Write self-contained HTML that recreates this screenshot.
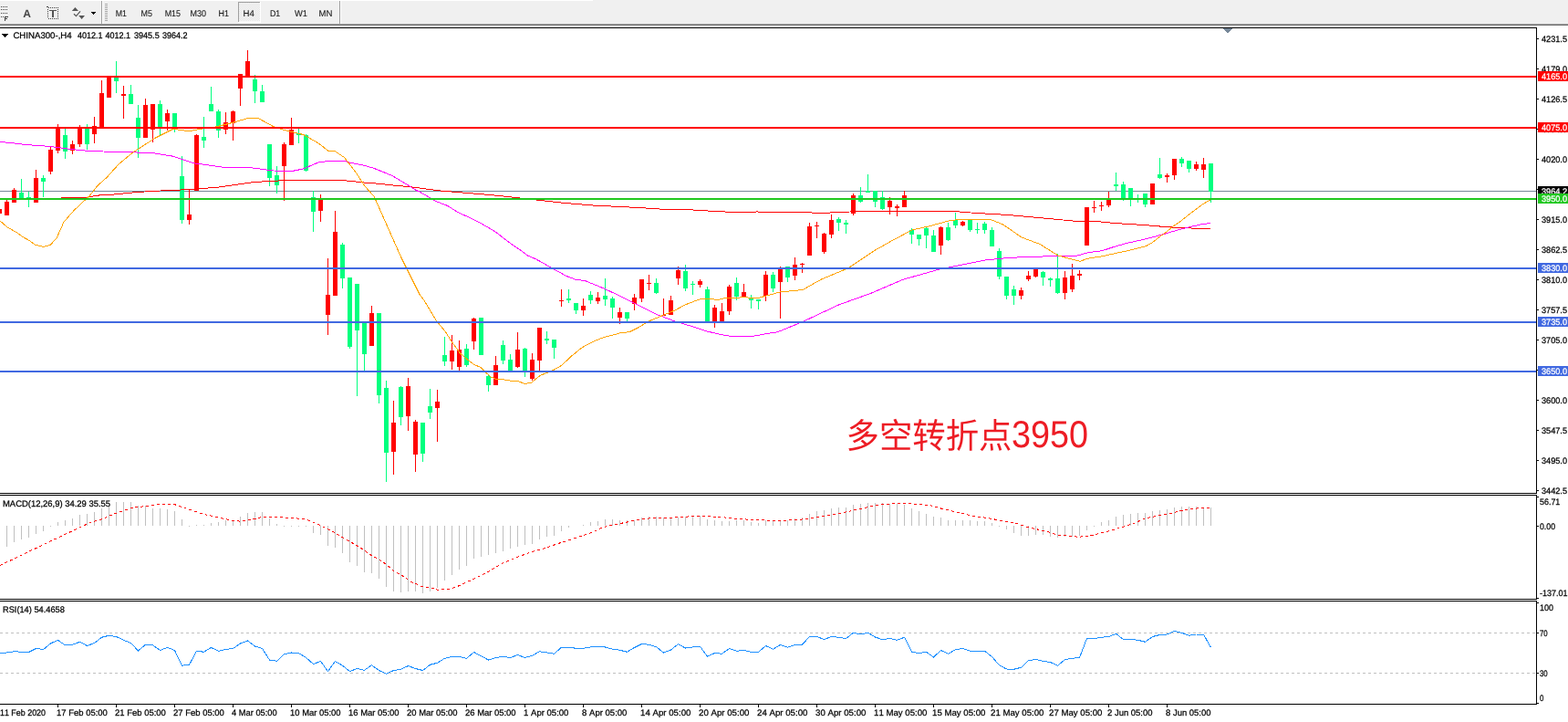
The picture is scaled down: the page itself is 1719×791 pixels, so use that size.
<!DOCTYPE html>
<html><head><meta charset="utf-8"><title>CHINA300 H4</title>
<style>html,body{margin:0;padding:0;background:#fff;overflow:hidden;}svg{display:block;}text{font-kerning:none;text-rendering:geometricPrecision;}</style>
</head><body>
<svg width="1719" height="791" viewBox="0 0 1719 791" shape-rendering="crispEdges">
<rect x="0" y="0" width="1719" height="791" fill="#fff"/>
<rect x="0" y="0" width="1719" height="26" fill="#f0f0f0"/>
<rect x="0" y="0" width="650" height="1" fill="#ffffff"/>
<rect x="0" y="26" width="1719" height="1" fill="#a0a0a0"/>
<rect x="0" y="27" width="1719" height="1" fill="#6d6d6d"/>
<rect x="1" y="7" width="1" height="1" fill="#404040"/>
<rect x="3" y="7" width="1" height="1" fill="#404040"/>
<rect x="5" y="7" width="1" height="1" fill="#404040"/>
<rect x="7" y="7" width="1" height="1" fill="#404040"/>
<rect x="1" y="10" width="1" height="1" fill="#404040"/>
<rect x="3" y="10" width="1" height="1" fill="#404040"/>
<rect x="5" y="10" width="1" height="1" fill="#404040"/>
<rect x="7" y="10" width="1" height="1" fill="#404040"/>
<rect x="1" y="14" width="1" height="1" fill="#404040"/>
<rect x="3" y="14" width="1" height="1" fill="#404040"/>
<rect x="5" y="14" width="1" height="1" fill="#404040"/>
<rect x="7" y="14" width="1" height="1" fill="#404040"/>
<rect x="1" y="18" width="1" height="1" fill="#404040"/>
<rect x="3" y="18" width="1" height="1" fill="#404040"/>
<rect x="5" y="18" width="1" height="5" fill="#404040"/>
<rect x="5" y="18" width="4" height="1" fill="#404040"/>
<rect x="5" y="20" width="3" height="1" fill="#404040"/>
<text x="29.5" y="19" font-size="12" fill="#4a4a4a" font-family='"Liberation Sans", Arial, sans-serif' text-anchor="middle" font-weight="bold">A</text>
<rect x="53" y="8" width="1" height="1" fill="#404040"/>
<rect x="53" y="20" width="1" height="1" fill="#404040"/>
<rect x="55" y="8" width="1" height="1" fill="#404040"/>
<rect x="55" y="20" width="1" height="1" fill="#404040"/>
<rect x="57" y="8" width="1" height="1" fill="#404040"/>
<rect x="57" y="20" width="1" height="1" fill="#404040"/>
<rect x="59" y="8" width="1" height="1" fill="#404040"/>
<rect x="59" y="20" width="1" height="1" fill="#404040"/>
<rect x="61" y="8" width="1" height="1" fill="#404040"/>
<rect x="61" y="20" width="1" height="1" fill="#404040"/>
<rect x="63" y="8" width="1" height="1" fill="#404040"/>
<rect x="63" y="20" width="1" height="1" fill="#404040"/>
<rect x="52" y="10" width="1" height="1" fill="#404040"/>
<rect x="63" y="10" width="1" height="1" fill="#404040"/>
<rect x="52" y="12" width="1" height="1" fill="#404040"/>
<rect x="63" y="12" width="1" height="1" fill="#404040"/>
<rect x="52" y="14" width="1" height="1" fill="#404040"/>
<rect x="63" y="14" width="1" height="1" fill="#404040"/>
<rect x="52" y="16" width="1" height="1" fill="#404040"/>
<rect x="63" y="16" width="1" height="1" fill="#404040"/>
<rect x="52" y="18" width="1" height="1" fill="#404040"/>
<rect x="63" y="18" width="1" height="1" fill="#404040"/>
<rect x="51" y="7" width="2" height="1" fill="#404040"/>
<rect x="54" y="11" width="8" height="1" fill="#555555"/>
<rect x="57" y="11" width="2" height="8" fill="#555555"/>
<path d="M78.8,12 L82.4,8 L86,12 Z" fill="#555555" shape-rendering="auto"/>
<path d="M86.2,17 L93,17 L89.6,21 Z" fill="#555555" shape-rendering="auto"/>
<polyline points="81,15.2 83.5,17.6 88,12.4" fill="none" stroke="#555555" stroke-width="1.2" shape-rendering="auto"/>
<path d="M99.5,13 L105.5,13 L102.5,16.5 Z" fill="#000"/>
<rect x="111" y="1" width="1" height="25" fill="#a0a0a0"/>
<rect x="112" y="1" width="1" height="25" fill="#ffffff"/>
<rect x="115" y="4" width="3" height="1" fill="#a8a8a8"/>
<rect x="115" y="6" width="3" height="1" fill="#a8a8a8"/>
<rect x="115" y="8" width="3" height="1" fill="#a8a8a8"/>
<rect x="115" y="10" width="3" height="1" fill="#a8a8a8"/>
<rect x="115" y="12" width="3" height="1" fill="#a8a8a8"/>
<rect x="115" y="14" width="3" height="1" fill="#a8a8a8"/>
<rect x="115" y="16" width="3" height="1" fill="#a8a8a8"/>
<rect x="115" y="18" width="3" height="1" fill="#a8a8a8"/>
<rect x="115" y="20" width="3" height="1" fill="#a8a8a8"/>
<rect x="115" y="22" width="3" height="1" fill="#a8a8a8"/>
<rect x="372" y="1" width="1" height="25" fill="#a0a0a0"/>
<rect x="373" y="1" width="1" height="25" fill="#ffffff"/>
<rect x="261" y="2" width="25" height="22" fill="#f7f7f7"/>
<defs><pattern id="dith" width="2" height="2" patternUnits="userSpaceOnUse"><rect width="2" height="2" fill="#f8f8f8"/><rect width="1" height="1" fill="#e4e4e4"/><rect x="1" y="1" width="1" height="1" fill="#e4e4e4"/></pattern></defs>
<rect x="262" y="3" width="23" height="20" fill="url(#dith)"/>
<rect x="261" y="2" width="25" height="1" fill="#a0a0a0"/>
<rect x="261" y="2" width="1" height="22" fill="#a0a0a0"/>
<rect x="261" y="24" width="25" height="1" fill="#ffffff"/>
<rect x="285" y="2" width="1" height="22" fill="#ffffff"/>
<text x="126.7" y="18" font-size="9.8" fill="#1a1a1a" font-family='"Liberation Sans", Arial, sans-serif' textLength="12.2" lengthAdjust="spacingAndGlyphs" stroke="#1a1a1a" stroke-width="0.12">M1</text>
<text x="154.6" y="18" font-size="9.8" fill="#1a1a1a" font-family='"Liberation Sans", Arial, sans-serif' textLength="12.4" lengthAdjust="spacingAndGlyphs" stroke="#1a1a1a" stroke-width="0.12">M5</text>
<text x="180.7" y="18" font-size="9.8" fill="#1a1a1a" font-family='"Liberation Sans", Arial, sans-serif' textLength="17.3" lengthAdjust="spacingAndGlyphs" stroke="#1a1a1a" stroke-width="0.12">M15</text>
<text x="208.5" y="18" font-size="9.8" fill="#1a1a1a" font-family='"Liberation Sans", Arial, sans-serif' textLength="17.5" lengthAdjust="spacingAndGlyphs" stroke="#1a1a1a" stroke-width="0.12">M30</text>
<text x="239.6" y="18" font-size="9.8" fill="#1a1a1a" font-family='"Liberation Sans", Arial, sans-serif' textLength="11.4" lengthAdjust="spacingAndGlyphs" stroke="#1a1a1a" stroke-width="0.12">H1</text>
<text x="266.6" y="18" font-size="9.8" fill="#1a1a1a" font-family='"Liberation Sans", Arial, sans-serif' textLength="12.3" lengthAdjust="spacingAndGlyphs" stroke="#1a1a1a" stroke-width="0.12">H4</text>
<text x="295.9" y="18" font-size="9.8" fill="#1a1a1a" font-family='"Liberation Sans", Arial, sans-serif' textLength="11.3" lengthAdjust="spacingAndGlyphs" stroke="#1a1a1a" stroke-width="0.12">D1</text>
<text x="322.9" y="18" font-size="9.8" fill="#1a1a1a" font-family='"Liberation Sans", Arial, sans-serif' textLength="14.0" lengthAdjust="spacingAndGlyphs" stroke="#1a1a1a" stroke-width="0.12">W1</text>
<text x="349.5" y="18" font-size="9.8" fill="#1a1a1a" font-family='"Liberation Sans", Arial, sans-serif' textLength="14.9" lengthAdjust="spacingAndGlyphs" stroke="#1a1a1a" stroke-width="0.12">MN</text>
<rect x="0" y="28" width="1685" height="2" fill="#ffffff"/>
<rect x="0" y="209" width="1684" height="1" fill="#778899"/>
<rect x="-1" y="226" width="1" height="10" fill="#ff0000"/>
<rect x="-3" y="229" width="5" height="5" fill="#ff0000"/>
<rect x="7" y="219" width="1" height="17" fill="#ff0000"/>
<rect x="5" y="221" width="5" height="15" fill="#ff0000"/>
<rect x="15" y="206" width="1" height="16" fill="#ff0000"/>
<rect x="13" y="208" width="5" height="14" fill="#ff0000"/>
<rect x="23" y="196" width="1" height="21" fill="#00ff7f"/>
<rect x="21" y="211" width="5" height="6" fill="#00ff7f"/>
<rect x="31" y="210" width="1" height="17" fill="#00ff7f"/>
<rect x="29" y="216" width="5" height="2" fill="#00ff7f"/>
<rect x="39" y="186" width="1" height="36" fill="#ff0000"/>
<rect x="37" y="195" width="5" height="27" fill="#ff0000"/>
<rect x="47" y="192" width="1" height="24" fill="#00ff7f"/>
<rect x="45" y="195" width="5" height="4" fill="#00ff7f"/>
<rect x="55" y="161" width="1" height="30" fill="#ff0000"/>
<rect x="53" y="164" width="5" height="24" fill="#ff0000"/>
<rect x="63" y="136" width="1" height="32" fill="#ff0000"/>
<rect x="61" y="140" width="5" height="25" fill="#ff0000"/>
<rect x="71" y="141" width="1" height="33" fill="#00ff7f"/>
<rect x="69" y="148" width="5" height="18" fill="#00ff7f"/>
<rect x="79" y="154" width="1" height="15" fill="#ff0000"/>
<rect x="77" y="158" width="5" height="7" fill="#ff0000"/>
<rect x="87" y="137" width="1" height="24" fill="#ff0000"/>
<rect x="85" y="140" width="5" height="18" fill="#ff0000"/>
<rect x="95" y="136" width="1" height="28" fill="#00ff7f"/>
<rect x="93" y="141" width="5" height="17" fill="#00ff7f"/>
<rect x="103" y="128" width="1" height="29" fill="#ff0000"/>
<rect x="101" y="138" width="5" height="9" fill="#ff0000"/>
<rect x="111" y="88" width="1" height="52" fill="#ff0000"/>
<rect x="109" y="102" width="5" height="38" fill="#ff0000"/>
<rect x="119" y="84" width="1" height="23" fill="#ff0000"/>
<rect x="117" y="84" width="5" height="23" fill="#ff0000"/>
<rect x="127" y="67" width="1" height="35" fill="#00ff7f"/>
<rect x="125" y="85" width="5" height="4" fill="#00ff7f"/>
<rect x="135" y="94" width="1" height="36" fill="#ff0000"/>
<rect x="133" y="103" width="5" height="2" fill="#ff0000"/>
<rect x="143" y="93" width="1" height="21" fill="#00ff7f"/>
<rect x="141" y="103" width="5" height="11" fill="#00ff7f"/>
<rect x="151" y="115" width="1" height="58" fill="#00ff7f"/>
<rect x="149" y="129" width="5" height="22" fill="#00ff7f"/>
<rect x="159" y="108" width="1" height="43" fill="#ff0000"/>
<rect x="157" y="115" width="5" height="36" fill="#ff0000"/>
<rect x="167" y="114" width="1" height="42" fill="#ff0000"/>
<rect x="165" y="114" width="5" height="28" fill="#ff0000"/>
<rect x="175" y="110" width="1" height="39" fill="#00ff7f"/>
<rect x="173" y="114" width="5" height="25" fill="#00ff7f"/>
<rect x="183" y="120" width="1" height="23" fill="#ff0000"/>
<rect x="181" y="124" width="5" height="9" fill="#ff0000"/>
<rect x="191" y="124" width="1" height="21" fill="#00ff7f"/>
<rect x="189" y="124" width="5" height="15" fill="#00ff7f"/>
<rect x="199" y="171" width="1" height="74" fill="#00ff7f"/>
<rect x="197" y="193" width="5" height="48" fill="#00ff7f"/>
<rect x="207" y="207" width="1" height="39" fill="#ff0000"/>
<rect x="205" y="235" width="5" height="6" fill="#ff0000"/>
<rect x="215" y="147" width="1" height="62" fill="#ff0000"/>
<rect x="213" y="148" width="5" height="61" fill="#ff0000"/>
<rect x="223" y="128" width="1" height="34" fill="#00ff7f"/>
<rect x="221" y="150" width="5" height="4" fill="#00ff7f"/>
<rect x="231" y="95" width="1" height="27" fill="#00ff7f"/>
<rect x="229" y="114" width="5" height="8" fill="#00ff7f"/>
<rect x="239" y="120" width="1" height="31" fill="#00ff7f"/>
<rect x="237" y="122" width="5" height="21" fill="#00ff7f"/>
<rect x="247" y="123" width="1" height="24" fill="#ff0000"/>
<rect x="245" y="134" width="5" height="8" fill="#ff0000"/>
<rect x="255" y="121" width="1" height="33" fill="#ff0000"/>
<rect x="253" y="122" width="5" height="13" fill="#ff0000"/>
<rect x="263" y="81" width="1" height="35" fill="#ff0000"/>
<rect x="261" y="81" width="5" height="16" fill="#ff0000"/>
<rect x="271" y="55" width="1" height="29" fill="#ff0000"/>
<rect x="269" y="67" width="5" height="17" fill="#ff0000"/>
<rect x="279" y="82" width="1" height="31" fill="#00ff7f"/>
<rect x="277" y="87" width="5" height="13" fill="#00ff7f"/>
<rect x="287" y="93" width="1" height="19" fill="#00ff7f"/>
<rect x="285" y="100" width="5" height="12" fill="#00ff7f"/>
<rect x="295" y="158" width="1" height="46" fill="#00ff7f"/>
<rect x="293" y="158" width="5" height="37" fill="#00ff7f"/>
<rect x="303" y="182" width="1" height="30" fill="#00ff7f"/>
<rect x="301" y="192" width="5" height="11" fill="#00ff7f"/>
<rect x="311" y="156" width="1" height="64" fill="#ff0000"/>
<rect x="309" y="158" width="5" height="24" fill="#ff0000"/>
<rect x="319" y="129" width="1" height="30" fill="#ff0000"/>
<rect x="317" y="142" width="5" height="17" fill="#ff0000"/>
<rect x="327" y="141" width="1" height="16" fill="#00ff7f"/>
<rect x="325" y="146" width="5" height="2" fill="#00ff7f"/>
<rect x="335" y="147" width="1" height="41" fill="#00ff7f"/>
<rect x="333" y="148" width="5" height="39" fill="#00ff7f"/>
<rect x="343" y="209" width="1" height="45" fill="#00ff7f"/>
<rect x="341" y="216" width="5" height="16" fill="#00ff7f"/>
<rect x="351" y="213" width="1" height="30" fill="#ff0000"/>
<rect x="349" y="219" width="5" height="12" fill="#ff0000"/>
<rect x="359" y="283" width="1" height="84" fill="#ff0000"/>
<rect x="357" y="323" width="5" height="22" fill="#ff0000"/>
<rect x="367" y="231" width="1" height="93" fill="#ff0000"/>
<rect x="365" y="254" width="5" height="70" fill="#ff0000"/>
<rect x="375" y="266" width="1" height="50" fill="#00ff7f"/>
<rect x="373" y="268" width="5" height="37" fill="#00ff7f"/>
<rect x="383" y="304" width="1" height="78" fill="#00ff7f"/>
<rect x="381" y="304" width="5" height="76" fill="#00ff7f"/>
<rect x="391" y="311" width="1" height="123" fill="#00ff7f"/>
<rect x="389" y="311" width="5" height="51" fill="#00ff7f"/>
<rect x="399" y="353" width="1" height="53" fill="#00ff7f"/>
<rect x="397" y="354" width="5" height="34" fill="#00ff7f"/>
<rect x="407" y="335" width="1" height="44" fill="#ff0000"/>
<rect x="405" y="343" width="5" height="36" fill="#ff0000"/>
<rect x="415" y="343" width="1" height="99" fill="#00ff7f"/>
<rect x="413" y="343" width="5" height="90" fill="#00ff7f"/>
<rect x="423" y="417" width="1" height="111" fill="#00ff7f"/>
<rect x="421" y="425" width="5" height="71" fill="#00ff7f"/>
<rect x="431" y="439" width="1" height="81" fill="#ff0000"/>
<rect x="429" y="463" width="5" height="32" fill="#ff0000"/>
<rect x="439" y="423" width="1" height="43" fill="#00ff7f"/>
<rect x="437" y="424" width="5" height="33" fill="#00ff7f"/>
<rect x="447" y="414" width="1" height="58" fill="#ff0000"/>
<rect x="445" y="423" width="5" height="33" fill="#ff0000"/>
<rect x="455" y="460" width="1" height="57" fill="#ff0000"/>
<rect x="453" y="462" width="5" height="36" fill="#ff0000"/>
<rect x="463" y="463" width="1" height="43" fill="#00ff7f"/>
<rect x="461" y="463" width="5" height="34" fill="#00ff7f"/>
<rect x="471" y="426" width="1" height="33" fill="#00ff7f"/>
<rect x="469" y="445" width="5" height="7" fill="#00ff7f"/>
<rect x="479" y="427" width="1" height="57" fill="#ff0000"/>
<rect x="477" y="440" width="5" height="7" fill="#ff0000"/>
<rect x="487" y="369" width="1" height="32" fill="#00ff7f"/>
<rect x="485" y="389" width="5" height="7" fill="#00ff7f"/>
<rect x="495" y="367" width="1" height="38" fill="#ff0000"/>
<rect x="493" y="384" width="5" height="12" fill="#ff0000"/>
<rect x="503" y="373" width="1" height="33" fill="#ff0000"/>
<rect x="501" y="383" width="5" height="19" fill="#ff0000"/>
<rect x="511" y="377" width="1" height="25" fill="#00ff7f"/>
<rect x="509" y="382" width="5" height="18" fill="#00ff7f"/>
<rect x="519" y="348" width="1" height="35" fill="#ff0000"/>
<rect x="517" y="349" width="5" height="25" fill="#ff0000"/>
<rect x="527" y="348" width="1" height="41" fill="#00ff7f"/>
<rect x="525" y="348" width="5" height="41" fill="#00ff7f"/>
<rect x="535" y="410" width="1" height="19" fill="#00ff7f"/>
<rect x="533" y="412" width="5" height="10" fill="#00ff7f"/>
<rect x="543" y="390" width="1" height="32" fill="#ff0000"/>
<rect x="541" y="400" width="5" height="22" fill="#ff0000"/>
<rect x="551" y="373" width="1" height="26" fill="#00ff7f"/>
<rect x="549" y="378" width="5" height="17" fill="#00ff7f"/>
<rect x="559" y="388" width="1" height="18" fill="#00ff7f"/>
<rect x="557" y="394" width="5" height="12" fill="#00ff7f"/>
<rect x="567" y="364" width="1" height="39" fill="#ff0000"/>
<rect x="565" y="383" width="5" height="19" fill="#ff0000"/>
<rect x="575" y="381" width="1" height="32" fill="#00ff7f"/>
<rect x="573" y="382" width="5" height="26" fill="#00ff7f"/>
<rect x="583" y="387" width="1" height="30" fill="#ff0000"/>
<rect x="581" y="394" width="5" height="21" fill="#ff0000"/>
<rect x="591" y="359" width="1" height="48" fill="#ff0000"/>
<rect x="589" y="359" width="5" height="36" fill="#ff0000"/>
<rect x="599" y="363" width="1" height="14" fill="#00ff7f"/>
<rect x="597" y="371" width="5" height="2" fill="#00ff7f"/>
<rect x="607" y="372" width="1" height="21" fill="#00ff7f"/>
<rect x="605" y="372" width="5" height="9" fill="#00ff7f"/>
<rect x="615" y="317" width="1" height="19" fill="#ff0000"/>
<rect x="613" y="329" width="5" height="1" fill="#ff0000"/>
<rect x="623" y="317" width="1" height="15" fill="#00ff7f"/>
<rect x="621" y="327" width="5" height="2" fill="#00ff7f"/>
<rect x="631" y="332" width="1" height="12" fill="#00ff7f"/>
<rect x="629" y="332" width="5" height="8" fill="#00ff7f"/>
<rect x="639" y="327" width="1" height="19" fill="#ff0000"/>
<rect x="637" y="335" width="5" height="5" fill="#ff0000"/>
<rect x="647" y="319" width="1" height="14" fill="#00ff7f"/>
<rect x="645" y="323" width="5" height="6" fill="#00ff7f"/>
<rect x="655" y="320" width="1" height="13" fill="#ff0000"/>
<rect x="653" y="326" width="5" height="4" fill="#ff0000"/>
<rect x="663" y="305" width="1" height="30" fill="#00ff7f"/>
<rect x="661" y="324" width="5" height="4" fill="#00ff7f"/>
<rect x="671" y="325" width="1" height="24" fill="#00ff7f"/>
<rect x="669" y="327" width="5" height="10" fill="#00ff7f"/>
<rect x="679" y="337" width="1" height="18" fill="#ff0000"/>
<rect x="677" y="342" width="5" height="6" fill="#ff0000"/>
<rect x="687" y="342" width="1" height="10" fill="#00ff7f"/>
<rect x="685" y="342" width="5" height="7" fill="#00ff7f"/>
<rect x="695" y="322" width="1" height="18" fill="#ff0000"/>
<rect x="693" y="326" width="5" height="7" fill="#ff0000"/>
<rect x="703" y="306" width="1" height="25" fill="#ff0000"/>
<rect x="701" y="306" width="5" height="21" fill="#ff0000"/>
<rect x="711" y="301" width="1" height="17" fill="#ff0000"/>
<rect x="709" y="310" width="5" height="1" fill="#ff0000"/>
<rect x="719" y="305" width="1" height="17" fill="#00ff7f"/>
<rect x="717" y="310" width="5" height="11" fill="#00ff7f"/>
<rect x="727" y="327" width="1" height="19" fill="#ff0000"/>
<rect x="725" y="345" width="5" height="1" fill="#ff0000"/>
<rect x="735" y="324" width="1" height="21" fill="#ff0000"/>
<rect x="733" y="329" width="5" height="16" fill="#ff0000"/>
<rect x="743" y="292" width="1" height="20" fill="#ff0000"/>
<rect x="741" y="296" width="5" height="9" fill="#ff0000"/>
<rect x="751" y="290" width="1" height="29" fill="#00ff7f"/>
<rect x="749" y="297" width="5" height="19" fill="#00ff7f"/>
<rect x="759" y="308" width="1" height="15" fill="#00ff7f"/>
<rect x="757" y="311" width="5" height="1" fill="#00ff7f"/>
<rect x="767" y="306" width="1" height="9" fill="#ff0000"/>
<rect x="765" y="308" width="5" height="4" fill="#ff0000"/>
<rect x="775" y="314" width="1" height="38" fill="#00ff7f"/>
<rect x="773" y="317" width="5" height="35" fill="#00ff7f"/>
<rect x="783" y="334" width="1" height="25" fill="#ff0000"/>
<rect x="781" y="337" width="5" height="15" fill="#ff0000"/>
<rect x="791" y="332" width="1" height="20" fill="#ff0000"/>
<rect x="789" y="341" width="5" height="11" fill="#ff0000"/>
<rect x="799" y="312" width="1" height="33" fill="#ff0000"/>
<rect x="797" y="314" width="5" height="27" fill="#ff0000"/>
<rect x="807" y="304" width="1" height="25" fill="#00ff7f"/>
<rect x="805" y="310" width="5" height="15" fill="#00ff7f"/>
<rect x="815" y="311" width="1" height="14" fill="#ff0000"/>
<rect x="813" y="320" width="5" height="5" fill="#ff0000"/>
<rect x="823" y="323" width="1" height="15" fill="#00ff7f"/>
<rect x="821" y="326" width="5" height="3" fill="#00ff7f"/>
<rect x="831" y="328" width="1" height="11" fill="#00ff7f"/>
<rect x="829" y="328" width="5" height="2" fill="#00ff7f"/>
<rect x="839" y="297" width="1" height="33" fill="#ff0000"/>
<rect x="837" y="301" width="5" height="23" fill="#ff0000"/>
<rect x="847" y="298" width="1" height="22" fill="#00ff7f"/>
<rect x="845" y="301" width="5" height="15" fill="#00ff7f"/>
<rect x="855" y="292" width="1" height="57" fill="#ff0000"/>
<rect x="853" y="295" width="5" height="14" fill="#ff0000"/>
<rect x="863" y="292" width="1" height="17" fill="#00ff7f"/>
<rect x="861" y="292" width="5" height="12" fill="#00ff7f"/>
<rect x="871" y="282" width="1" height="25" fill="#ff0000"/>
<rect x="869" y="290" width="5" height="12" fill="#ff0000"/>
<rect x="879" y="288" width="1" height="11" fill="#ff0000"/>
<rect x="877" y="289" width="5" height="1" fill="#ff0000"/>
<rect x="887" y="244" width="1" height="36" fill="#ff0000"/>
<rect x="885" y="248" width="5" height="32" fill="#ff0000"/>
<rect x="895" y="243" width="1" height="18" fill="#ff0000"/>
<rect x="893" y="247" width="5" height="1" fill="#ff0000"/>
<rect x="903" y="255" width="1" height="23" fill="#ff0000"/>
<rect x="901" y="256" width="5" height="20" fill="#ff0000"/>
<rect x="911" y="235" width="1" height="26" fill="#ff0000"/>
<rect x="909" y="241" width="5" height="16" fill="#ff0000"/>
<rect x="919" y="238" width="1" height="15" fill="#00ff7f"/>
<rect x="917" y="240" width="5" height="4" fill="#00ff7f"/>
<rect x="927" y="241" width="1" height="15" fill="#00ff7f"/>
<rect x="925" y="244" width="5" height="2" fill="#00ff7f"/>
<rect x="935" y="212" width="1" height="24" fill="#ff0000"/>
<rect x="933" y="214" width="5" height="20" fill="#ff0000"/>
<rect x="943" y="205" width="1" height="17" fill="#00ff7f"/>
<rect x="941" y="214" width="5" height="7" fill="#00ff7f"/>
<rect x="951" y="191" width="1" height="20" fill="#00ff7f"/>
<rect x="949" y="209" width="5" height="2" fill="#00ff7f"/>
<rect x="959" y="209" width="1" height="18" fill="#00ff7f"/>
<rect x="957" y="209" width="5" height="12" fill="#00ff7f"/>
<rect x="967" y="209" width="1" height="21" fill="#00ff7f"/>
<rect x="965" y="216" width="5" height="13" fill="#00ff7f"/>
<rect x="975" y="216" width="1" height="19" fill="#ff0000"/>
<rect x="973" y="220" width="5" height="7" fill="#ff0000"/>
<rect x="983" y="224" width="1" height="13" fill="#ff0000"/>
<rect x="981" y="226" width="5" height="2" fill="#ff0000"/>
<rect x="991" y="209" width="1" height="18" fill="#ff0000"/>
<rect x="989" y="214" width="5" height="13" fill="#ff0000"/>
<rect x="999" y="250" width="1" height="17" fill="#00ff7f"/>
<rect x="997" y="252" width="5" height="5" fill="#00ff7f"/>
<rect x="1007" y="257" width="1" height="12" fill="#00ff7f"/>
<rect x="1005" y="257" width="5" height="5" fill="#00ff7f"/>
<rect x="1015" y="248" width="1" height="24" fill="#00ff7f"/>
<rect x="1013" y="250" width="5" height="8" fill="#00ff7f"/>
<rect x="1023" y="252" width="1" height="24" fill="#00ff7f"/>
<rect x="1021" y="258" width="5" height="18" fill="#00ff7f"/>
<rect x="1031" y="248" width="1" height="31" fill="#ff0000"/>
<rect x="1029" y="249" width="5" height="20" fill="#ff0000"/>
<rect x="1039" y="244" width="1" height="20" fill="#00ff7f"/>
<rect x="1037" y="249" width="5" height="14" fill="#00ff7f"/>
<rect x="1047" y="233" width="1" height="17" fill="#00ff7f"/>
<rect x="1045" y="241" width="5" height="6" fill="#00ff7f"/>
<rect x="1055" y="242" width="1" height="6" fill="#ff0000"/>
<rect x="1053" y="243" width="5" height="4" fill="#ff0000"/>
<rect x="1063" y="240" width="1" height="14" fill="#00ff7f"/>
<rect x="1061" y="241" width="5" height="11" fill="#00ff7f"/>
<rect x="1071" y="244" width="1" height="12" fill="#00ff7f"/>
<rect x="1069" y="251" width="5" height="1" fill="#00ff7f"/>
<rect x="1079" y="243" width="1" height="13" fill="#00ff7f"/>
<rect x="1077" y="245" width="5" height="7" fill="#00ff7f"/>
<rect x="1087" y="249" width="1" height="21" fill="#00ff7f"/>
<rect x="1085" y="252" width="5" height="18" fill="#00ff7f"/>
<rect x="1095" y="272" width="1" height="34" fill="#00ff7f"/>
<rect x="1093" y="275" width="5" height="28" fill="#00ff7f"/>
<rect x="1103" y="303" width="1" height="25" fill="#00ff7f"/>
<rect x="1101" y="303" width="5" height="21" fill="#00ff7f"/>
<rect x="1111" y="313" width="1" height="21" fill="#00ff7f"/>
<rect x="1109" y="317" width="5" height="7" fill="#00ff7f"/>
<rect x="1119" y="315" width="1" height="13" fill="#ff0000"/>
<rect x="1117" y="318" width="5" height="6" fill="#ff0000"/>
<rect x="1127" y="297" width="1" height="11" fill="#ff0000"/>
<rect x="1125" y="302" width="5" height="4" fill="#ff0000"/>
<rect x="1135" y="295" width="1" height="9" fill="#ff0000"/>
<rect x="1133" y="295" width="5" height="8" fill="#ff0000"/>
<rect x="1143" y="297" width="1" height="16" fill="#00ff7f"/>
<rect x="1141" y="298" width="5" height="6" fill="#00ff7f"/>
<rect x="1151" y="304" width="1" height="10" fill="#00ff7f"/>
<rect x="1149" y="305" width="5" height="2" fill="#00ff7f"/>
<rect x="1159" y="278" width="1" height="44" fill="#00ff7f"/>
<rect x="1157" y="305" width="5" height="16" fill="#00ff7f"/>
<rect x="1167" y="297" width="1" height="31" fill="#ff0000"/>
<rect x="1165" y="304" width="5" height="17" fill="#ff0000"/>
<rect x="1175" y="289" width="1" height="31" fill="#ff0000"/>
<rect x="1173" y="302" width="5" height="15" fill="#ff0000"/>
<rect x="1183" y="296" width="1" height="11" fill="#ff0000"/>
<rect x="1181" y="300" width="5" height="2" fill="#ff0000"/>
<rect x="1191" y="227" width="1" height="42" fill="#ff0000"/>
<rect x="1189" y="227" width="5" height="42" fill="#ff0000"/>
<rect x="1199" y="220" width="1" height="13" fill="#ff0000"/>
<rect x="1197" y="227" width="5" height="1" fill="#ff0000"/>
<rect x="1207" y="221" width="1" height="10" fill="#ff0000"/>
<rect x="1205" y="225" width="5" height="1" fill="#ff0000"/>
<rect x="1215" y="210" width="1" height="17" fill="#ff0000"/>
<rect x="1213" y="219" width="5" height="6" fill="#ff0000"/>
<rect x="1223" y="189" width="1" height="20" fill="#00ff7f"/>
<rect x="1221" y="202" width="5" height="2" fill="#00ff7f"/>
<rect x="1231" y="199" width="1" height="21" fill="#00ff7f"/>
<rect x="1229" y="202" width="5" height="16" fill="#00ff7f"/>
<rect x="1239" y="206" width="1" height="20" fill="#00ff7f"/>
<rect x="1237" y="206" width="5" height="11" fill="#00ff7f"/>
<rect x="1247" y="213" width="1" height="9" fill="#00ff7f"/>
<rect x="1245" y="217" width="5" height="1" fill="#00ff7f"/>
<rect x="1255" y="212" width="1" height="15" fill="#00ff7f"/>
<rect x="1253" y="212" width="5" height="12" fill="#00ff7f"/>
<rect x="1263" y="201" width="1" height="23" fill="#ff0000"/>
<rect x="1261" y="201" width="5" height="23" fill="#ff0000"/>
<rect x="1271" y="173" width="1" height="23" fill="#00ff7f"/>
<rect x="1269" y="191" width="5" height="4" fill="#00ff7f"/>
<rect x="1279" y="190" width="1" height="10" fill="#ff0000"/>
<rect x="1277" y="192" width="5" height="2" fill="#ff0000"/>
<rect x="1287" y="174" width="1" height="23" fill="#ff0000"/>
<rect x="1285" y="174" width="5" height="18" fill="#ff0000"/>
<rect x="1295" y="172" width="1" height="11" fill="#00ff7f"/>
<rect x="1293" y="174" width="5" height="5" fill="#00ff7f"/>
<rect x="1303" y="176" width="1" height="13" fill="#00ff7f"/>
<rect x="1301" y="176" width="5" height="9" fill="#00ff7f"/>
<rect x="1311" y="177" width="1" height="10" fill="#ff0000"/>
<rect x="1309" y="180" width="5" height="5" fill="#ff0000"/>
<rect x="1319" y="173" width="1" height="22" fill="#ff0000"/>
<rect x="1317" y="180" width="5" height="6" fill="#ff0000"/>
<rect x="1327" y="179" width="1" height="43" fill="#00ff7f"/>
<rect x="1325" y="179" width="5" height="31" fill="#00ff7f"/>
<polyline points="67.00,216.50 95.00,216.25 107.00,214.10 125.00,213.00 150.00,210.50 180.00,208.75 210.00,207.50 240.00,205.00 275.00,200.00 290.00,198.75 315.00,197.50 375.00,197.50 390.00,199.00 404.00,200.50 418.00,201.40 425.00,202.50 436.00,203.50 448.00,204.50 456.00,205.50 480.00,208.75 510.00,211.25 540.00,213.75 570.00,217.00 590.00,219.25 620.00,222.50 650.00,225.00 675.00,226.25 700.00,227.50 730.00,229.50 760.00,230.00 780.00,231.25 805.00,232.50 830.00,232.00 905.00,233.25 947.50,231.25 1042.50,231.25 1067.50,233.25 1105.00,235.50 1155.00,240.00 1180.00,242.40 1203.30,242.60 1220.40,244.40 1236.60,245.40 1252.80,246.40 1276.10,248.40 1291.20,249.40 1315.50,250.40 1327.00,250.40" fill="none" stroke="#ff0000" stroke-width="1"/>
<polyline points="0.00,155.50 12.00,156.50 20.00,157.50 28.00,158.50 42.00,159.50 55.00,160.50 80.00,163.75 100.00,165.75 140.00,166.50 170.00,168.00 190.00,171.25 212.50,178.75 245.00,183.25 275.00,183.75 300.00,187.00 320.00,187.50 332.50,185.00 350.00,177.50 365.00,176.25 380.00,177.00 385.00,178.50 400.00,181.40 410.00,184.40 420.00,188.40 430.00,192.50 440.00,198.50 450.00,204.40 455.00,207.80 460.30,210.30 471.00,216.40 477.00,220.20 490.70,225.50 502.80,233.10 515.00,238.40 525.60,243.70 536.20,249.80 543.80,254.40 551.40,260.40 560.50,267.30 569.60,273.30 578.70,280.20 587.80,284.00 600.00,290.80 620.00,302.00 631.00,306.30 641.00,307.40 663.00,316.40 680.00,324.50 700.00,334.50 720.00,344.50 740.00,352.00 760.00,358.00 775.00,363.00 790.00,366.40 800.00,368.20 820.00,368.90 832.00,367.30 840.00,365.60 852.50,363.75 880.00,352.50 920.00,333.75 955.00,321.25 990.00,306.25 1030.00,295.00 1080.00,285.00 1105.00,282.50 1130.00,281.25 1180.00,280.30 1193.10,276.70 1208.30,274.70 1220.40,270.70 1236.60,266.10 1252.80,262.60 1264.90,259.50 1281.10,255.00 1291.20,252.00 1305.40,248.40 1316.50,245.90 1327.00,244.40" fill="none" stroke="#ff00ff" stroke-width="1"/>
<polyline points="0.00,242.00 8.00,248.90 19.00,255.20 25.00,259.60 32.00,263.40 38.00,267.90 47.00,270.40 55.00,268.50 62.00,261.00 70.00,243.20 81.00,230.60 89.00,223.00 98.00,214.80 107.00,203.40 117.00,194.50 130.00,180.00 145.00,167.50 170.00,151.25 190.00,141.25 207.50,143.75 220.00,141.25 237.50,138.75 257.50,133.75 272.50,129.25 282.50,129.25 300.00,138.75 310.00,142.00 332.50,147.50 350.00,157.50 360.00,165.50 367.50,165.75 377.50,172.50 390.00,188.75 400.00,204.00 410.00,215.00 420.00,237.50 430.00,260.00 440.00,282.50 450.00,302.50 460.00,322.50 465.60,330.00 478.00,350.90 487.80,362.70 496.20,375.90 504.50,387.00 512.90,394.30 519.80,399.50 526.80,402.30 532.30,407.90 537.90,412.80 543.50,415.10 554.60,416.20 560.10,417.30 568.50,417.90 575.40,420.40 582.40,419.30 592.10,411.40 599.10,408.60 607.40,405.10 615.80,400.20 626.90,389.80 638.00,380.80 651.90,373.40 663.10,369.20 675.00,366.40 680.00,364.50 690.00,363.75 700.00,358.75 710.00,352.50 725.00,346.25 740.00,340.00 750.00,334.50 755.00,332.40 766.00,328.20 772.00,327.20 788.00,328.40 793.00,327.00 811.00,326.00 815.60,325.30 820.00,326.00 832.60,326.00 840.00,324.10 855.00,320.00 880.00,317.50 900.00,306.25 930.00,293.75 960.00,273.75 980.00,262.50 1000.00,252.00 1020.00,247.50 1040.00,242.00 1055.00,240.00 1085.00,240.00 1100.00,246.25 1120.00,260.00 1140.00,267.50 1160.00,280.00 1180.00,285.30 1184.00,286.30 1192.10,283.30 1208.30,280.80 1224.50,277.20 1240.70,273.70 1255.80,269.90 1262.90,266.10 1271.00,259.50 1277.00,255.50 1286.20,247.90 1294.30,242.40 1301.30,236.80 1311.40,229.20 1319.50,223.10 1327.00,218.90" fill="none" stroke="#ffa500" stroke-width="1"/>
<rect x="0" y="83" width="1684" height="2" fill="#ff0000"/>
<rect x="0" y="139" width="1684" height="2" fill="#ff0000"/>
<rect x="0" y="217" width="1684" height="2" fill="#20c820"/>
<rect x="0" y="293" width="1684" height="2" fill="#4169e1"/>
<rect x="0" y="352" width="1684" height="2" fill="#4169e1"/>
<rect x="0" y="406" width="1684" height="2" fill="#4169e1"/>
<rect x="1341" y="31" width="10" height="1" fill="#778899"/>
<rect x="1342" y="32" width="8" height="1" fill="#778899"/>
<rect x="1343" y="33" width="6" height="1" fill="#778899"/>
<rect x="1344" y="34" width="4" height="1" fill="#778899"/>
<rect x="1345" y="35" width="2" height="1" fill="#778899"/>
<path d="M2,37 L9.5,37 L5.75,41 Z" fill="#000"/>
<text x="14.4" y="42" font-size="9.5" fill="#000" font-family='"Liberation Sans", Arial, sans-serif' textLength="64.3" lengthAdjust="spacingAndGlyphs" stroke="#000" stroke-width="0.25">CHINA300-,H4</text>
<text x="85" y="42" font-size="9.5" fill="#000" font-family='"Liberation Sans", Arial, sans-serif' textLength="27.5" lengthAdjust="spacingAndGlyphs" stroke="#000" stroke-width="0.25">4012.1</text>
<text x="115.6" y="42" font-size="9.5" fill="#000" font-family='"Liberation Sans", Arial, sans-serif' textLength="27.5" lengthAdjust="spacingAndGlyphs" stroke="#000" stroke-width="0.25">4012.1</text>
<text x="146.9" y="42" font-size="9.5" fill="#000" font-family='"Liberation Sans", Arial, sans-serif' textLength="27.8" lengthAdjust="spacingAndGlyphs" stroke="#000" stroke-width="0.25">3945.5</text>
<text x="178.1" y="42" font-size="9.5" fill="#000" font-family='"Liberation Sans", Arial, sans-serif' textLength="27.5" lengthAdjust="spacingAndGlyphs" stroke="#000" stroke-width="0.25">3964.2</text>
<text x="927.5" y="491" font-size="38" fill="#ed1c24" font-family='"Noto Sans CJK SC", sans-serif' textLength="182" lengthAdjust="spacingAndGlyphs">多空转折点</text>
<text x="1109" y="490" font-size="41.5" fill="#ed1c24" font-family='"Liberation Sans", sans-serif' textLength="84" lengthAdjust="spacingAndGlyphs">3950</text>
<rect x="7" y="576" width="1" height="23" fill="#c0c0c0"/>
<rect x="15" y="576" width="1" height="18" fill="#c0c0c0"/>
<rect x="23" y="576" width="1" height="15" fill="#c0c0c0"/>
<rect x="31" y="576" width="1" height="13" fill="#c0c0c0"/>
<rect x="39" y="576" width="1" height="9" fill="#c0c0c0"/>
<rect x="47" y="576" width="1" height="6" fill="#c0c0c0"/>
<rect x="55" y="576" width="1" height="1" fill="#c0c0c0"/>
<rect x="63" y="572" width="1" height="4" fill="#c0c0c0"/>
<rect x="71" y="570" width="1" height="6" fill="#c0c0c0"/>
<rect x="79" y="568" width="1" height="8" fill="#c0c0c0"/>
<rect x="87" y="564" width="1" height="12" fill="#c0c0c0"/>
<rect x="95" y="563" width="1" height="13" fill="#c0c0c0"/>
<rect x="103" y="561" width="1" height="15" fill="#c0c0c0"/>
<rect x="111" y="557" width="1" height="19" fill="#c0c0c0"/>
<rect x="119" y="554" width="1" height="22" fill="#c0c0c0"/>
<rect x="127" y="550" width="1" height="26" fill="#c0c0c0"/>
<rect x="135" y="550" width="1" height="26" fill="#c0c0c0"/>
<rect x="143" y="550" width="1" height="26" fill="#c0c0c0"/>
<rect x="151" y="554" width="1" height="22" fill="#c0c0c0"/>
<rect x="159" y="554" width="1" height="22" fill="#c0c0c0"/>
<rect x="167" y="557" width="1" height="19" fill="#c0c0c0"/>
<rect x="175" y="557" width="1" height="19" fill="#c0c0c0"/>
<rect x="183" y="558" width="1" height="18" fill="#c0c0c0"/>
<rect x="191" y="560" width="1" height="16" fill="#c0c0c0"/>
<rect x="199" y="569" width="1" height="7" fill="#c0c0c0"/>
<rect x="207" y="576" width="1" height="1" fill="#c0c0c0"/>
<rect x="215" y="575" width="1" height="1" fill="#c0c0c0"/>
<rect x="223" y="575" width="1" height="1" fill="#c0c0c0"/>
<rect x="231" y="573" width="1" height="3" fill="#c0c0c0"/>
<rect x="239" y="572" width="1" height="4" fill="#c0c0c0"/>
<rect x="247" y="570" width="1" height="6" fill="#c0c0c0"/>
<rect x="255" y="570" width="1" height="6" fill="#c0c0c0"/>
<rect x="263" y="566" width="1" height="10" fill="#c0c0c0"/>
<rect x="271" y="562" width="1" height="14" fill="#c0c0c0"/>
<rect x="279" y="561" width="1" height="15" fill="#c0c0c0"/>
<rect x="287" y="561" width="1" height="15" fill="#c0c0c0"/>
<rect x="295" y="568" width="1" height="8" fill="#c0c0c0"/>
<rect x="303" y="574" width="1" height="2" fill="#c0c0c0"/>
<rect x="311" y="576" width="1" height="1" fill="#c0c0c0"/>
<rect x="319" y="576" width="1" height="1" fill="#c0c0c0"/>
<rect x="327" y="576" width="1" height="1" fill="#c0c0c0"/>
<rect x="335" y="576" width="1" height="1" fill="#c0c0c0"/>
<rect x="343" y="576" width="1" height="8" fill="#c0c0c0"/>
<rect x="351" y="576" width="1" height="10" fill="#c0c0c0"/>
<rect x="359" y="576" width="1" height="22" fill="#c0c0c0"/>
<rect x="367" y="576" width="1" height="24" fill="#c0c0c0"/>
<rect x="375" y="576" width="1" height="30" fill="#c0c0c0"/>
<rect x="383" y="576" width="1" height="40" fill="#c0c0c0"/>
<rect x="391" y="576" width="1" height="44" fill="#c0c0c0"/>
<rect x="399" y="576" width="1" height="51" fill="#c0c0c0"/>
<rect x="407" y="576" width="1" height="52" fill="#c0c0c0"/>
<rect x="415" y="576" width="1" height="58" fill="#c0c0c0"/>
<rect x="423" y="576" width="1" height="67" fill="#c0c0c0"/>
<rect x="431" y="576" width="1" height="72" fill="#c0c0c0"/>
<rect x="439" y="576" width="1" height="73" fill="#c0c0c0"/>
<rect x="447" y="576" width="1" height="72" fill="#c0c0c0"/>
<rect x="455" y="576" width="1" height="72" fill="#c0c0c0"/>
<rect x="463" y="576" width="1" height="74" fill="#c0c0c0"/>
<rect x="471" y="576" width="1" height="72" fill="#c0c0c0"/>
<rect x="479" y="576" width="1" height="68" fill="#c0c0c0"/>
<rect x="487" y="576" width="1" height="60" fill="#c0c0c0"/>
<rect x="495" y="576" width="1" height="54" fill="#c0c0c0"/>
<rect x="503" y="576" width="1" height="48" fill="#c0c0c0"/>
<rect x="511" y="576" width="1" height="44" fill="#c0c0c0"/>
<rect x="519" y="576" width="1" height="36" fill="#c0c0c0"/>
<rect x="527" y="576" width="1" height="34" fill="#c0c0c0"/>
<rect x="535" y="576" width="1" height="32" fill="#c0c0c0"/>
<rect x="543" y="576" width="1" height="30" fill="#c0c0c0"/>
<rect x="551" y="576" width="1" height="28" fill="#c0c0c0"/>
<rect x="559" y="576" width="1" height="25" fill="#c0c0c0"/>
<rect x="567" y="576" width="1" height="23" fill="#c0c0c0"/>
<rect x="575" y="576" width="1" height="21" fill="#c0c0c0"/>
<rect x="583" y="576" width="1" height="20" fill="#c0c0c0"/>
<rect x="591" y="576" width="1" height="15" fill="#c0c0c0"/>
<rect x="599" y="576" width="1" height="12" fill="#c0c0c0"/>
<rect x="607" y="576" width="1" height="11" fill="#c0c0c0"/>
<rect x="615" y="576" width="1" height="6" fill="#c0c0c0"/>
<rect x="623" y="576" width="1" height="2" fill="#c0c0c0"/>
<rect x="639" y="575" width="1" height="1" fill="#c0c0c0"/>
<rect x="647" y="572" width="1" height="4" fill="#c0c0c0"/>
<rect x="655" y="571" width="1" height="5" fill="#c0c0c0"/>
<rect x="663" y="569" width="1" height="7" fill="#c0c0c0"/>
<rect x="671" y="569" width="1" height="7" fill="#c0c0c0"/>
<rect x="679" y="570" width="1" height="6" fill="#c0c0c0"/>
<rect x="687" y="570" width="1" height="6" fill="#c0c0c0"/>
<rect x="695" y="570" width="1" height="6" fill="#c0c0c0"/>
<rect x="703" y="567" width="1" height="9" fill="#c0c0c0"/>
<rect x="711" y="566" width="1" height="10" fill="#c0c0c0"/>
<rect x="719" y="566" width="1" height="10" fill="#c0c0c0"/>
<rect x="727" y="567" width="1" height="9" fill="#c0c0c0"/>
<rect x="735" y="567" width="1" height="9" fill="#c0c0c0"/>
<rect x="743" y="567" width="1" height="9" fill="#c0c0c0"/>
<rect x="751" y="566" width="1" height="10" fill="#c0c0c0"/>
<rect x="759" y="565" width="1" height="11" fill="#c0c0c0"/>
<rect x="767" y="565" width="1" height="11" fill="#c0c0c0"/>
<rect x="775" y="569" width="1" height="7" fill="#c0c0c0"/>
<rect x="783" y="570" width="1" height="6" fill="#c0c0c0"/>
<rect x="791" y="571" width="1" height="5" fill="#c0c0c0"/>
<rect x="799" y="571" width="1" height="5" fill="#c0c0c0"/>
<rect x="807" y="570" width="1" height="6" fill="#c0c0c0"/>
<rect x="815" y="570" width="1" height="6" fill="#c0c0c0"/>
<rect x="823" y="572" width="1" height="4" fill="#c0c0c0"/>
<rect x="831" y="573" width="1" height="3" fill="#c0c0c0"/>
<rect x="839" y="570" width="1" height="6" fill="#c0c0c0"/>
<rect x="847" y="570" width="1" height="6" fill="#c0c0c0"/>
<rect x="855" y="570" width="1" height="6" fill="#c0c0c0"/>
<rect x="863" y="570" width="1" height="6" fill="#c0c0c0"/>
<rect x="871" y="568" width="1" height="8" fill="#c0c0c0"/>
<rect x="879" y="567" width="1" height="9" fill="#c0c0c0"/>
<rect x="887" y="563" width="1" height="13" fill="#c0c0c0"/>
<rect x="895" y="560" width="1" height="16" fill="#c0c0c0"/>
<rect x="903" y="559" width="1" height="17" fill="#c0c0c0"/>
<rect x="911" y="557" width="1" height="19" fill="#c0c0c0"/>
<rect x="919" y="556" width="1" height="20" fill="#c0c0c0"/>
<rect x="927" y="556" width="1" height="20" fill="#c0c0c0"/>
<rect x="935" y="553" width="1" height="23" fill="#c0c0c0"/>
<rect x="943" y="552" width="1" height="24" fill="#c0c0c0"/>
<rect x="951" y="551" width="1" height="25" fill="#c0c0c0"/>
<rect x="959" y="551" width="1" height="25" fill="#c0c0c0"/>
<rect x="967" y="551" width="1" height="25" fill="#c0c0c0"/>
<rect x="975" y="552" width="1" height="24" fill="#c0c0c0"/>
<rect x="983" y="552" width="1" height="24" fill="#c0c0c0"/>
<rect x="991" y="553" width="1" height="23" fill="#c0c0c0"/>
<rect x="999" y="557" width="1" height="19" fill="#c0c0c0"/>
<rect x="1007" y="560" width="1" height="16" fill="#c0c0c0"/>
<rect x="1015" y="563" width="1" height="13" fill="#c0c0c0"/>
<rect x="1023" y="566" width="1" height="10" fill="#c0c0c0"/>
<rect x="1031" y="567" width="1" height="9" fill="#c0c0c0"/>
<rect x="1039" y="570" width="1" height="6" fill="#c0c0c0"/>
<rect x="1047" y="570" width="1" height="6" fill="#c0c0c0"/>
<rect x="1055" y="570" width="1" height="6" fill="#c0c0c0"/>
<rect x="1063" y="570" width="1" height="6" fill="#c0c0c0"/>
<rect x="1071" y="571" width="1" height="5" fill="#c0c0c0"/>
<rect x="1079" y="571" width="1" height="5" fill="#c0c0c0"/>
<rect x="1087" y="573" width="1" height="3" fill="#c0c0c0"/>
<rect x="1095" y="576" width="1" height="1" fill="#c0c0c0"/>
<rect x="1103" y="576" width="1" height="4" fill="#c0c0c0"/>
<rect x="1111" y="576" width="1" height="8" fill="#c0c0c0"/>
<rect x="1119" y="576" width="1" height="11" fill="#c0c0c0"/>
<rect x="1127" y="576" width="1" height="11" fill="#c0c0c0"/>
<rect x="1135" y="576" width="1" height="10" fill="#c0c0c0"/>
<rect x="1143" y="576" width="1" height="10" fill="#c0c0c0"/>
<rect x="1151" y="576" width="1" height="12" fill="#c0c0c0"/>
<rect x="1159" y="576" width="1" height="13" fill="#c0c0c0"/>
<rect x="1167" y="576" width="1" height="12" fill="#c0c0c0"/>
<rect x="1175" y="576" width="1" height="12" fill="#c0c0c0"/>
<rect x="1183" y="576" width="1" height="11" fill="#c0c0c0"/>
<rect x="1191" y="576" width="1" height="5" fill="#c0c0c0"/>
<rect x="1199" y="576" width="1" height="1" fill="#c0c0c0"/>
<rect x="1207" y="572" width="1" height="4" fill="#c0c0c0"/>
<rect x="1215" y="570" width="1" height="6" fill="#c0c0c0"/>
<rect x="1223" y="566" width="1" height="10" fill="#c0c0c0"/>
<rect x="1231" y="564" width="1" height="12" fill="#c0c0c0"/>
<rect x="1239" y="563" width="1" height="13" fill="#c0c0c0"/>
<rect x="1247" y="562" width="1" height="14" fill="#c0c0c0"/>
<rect x="1255" y="562" width="1" height="14" fill="#c0c0c0"/>
<rect x="1263" y="560" width="1" height="16" fill="#c0c0c0"/>
<rect x="1271" y="559" width="1" height="17" fill="#c0c0c0"/>
<rect x="1279" y="558" width="1" height="18" fill="#c0c0c0"/>
<rect x="1287" y="556" width="1" height="20" fill="#c0c0c0"/>
<rect x="1295" y="555" width="1" height="21" fill="#c0c0c0"/>
<rect x="1303" y="555" width="1" height="21" fill="#c0c0c0"/>
<rect x="1311" y="555" width="1" height="21" fill="#c0c0c0"/>
<rect x="1319" y="556" width="1" height="20" fill="#c0c0c0"/>
<rect x="1327" y="556" width="1" height="20" fill="#c0c0c0"/>
<polyline points="0.00,619.50 25.00,607.50 50.00,595.50 75.00,583.75 100.00,572.00 110.00,569.50 125.00,563.00 145.00,556.25 160.00,554.50 175.00,552.50 192.50,553.00 205.00,557.50 225.00,563.75 240.00,567.00 255.00,570.50 265.00,571.25 275.00,569.50 285.00,567.00 300.00,566.25 320.00,567.50 335.00,568.75 350.00,575.00 365.00,582.50 380.00,591.25 395.00,600.00 407.50,608.75 415.00,612.50 425.00,619.50 432.50,626.25 440.00,630.00 450.00,637.00 462.50,642.50 472.50,643.75 480.00,646.25 492.50,645.50 502.50,642.00 515.00,636.25 527.50,630.50 540.00,623.75 552.50,616.25 565.00,611.25 580.00,605.50 595.00,601.25 607.50,597.00 625.00,591.25 640.00,586.25 650.00,583.00 660.00,578.00 672.50,575.00 687.50,572.00 700.00,569.50 715.00,567.50 737.50,567.00 762.50,565.50 787.50,566.25 805.00,568.00 825.00,569.50 850.00,570.50 875.00,569.50 895.00,567.00 912.50,563.75 930.00,560.50 945.00,557.00 960.00,553.75 975.00,552.00 990.00,551.25 1005.00,552.50 1020.00,553.75 1035.00,558.00 1050.00,561.25 1065.00,565.00 1082.50,567.50 1102.50,571.25 1115.00,573.75 1125.00,577.00 1137.50,580.00 1150.00,583.00 1160.00,586.25 1175.00,587.50 1182.50,588.25 1195.00,587.00 1205.00,584.50 1217.50,581.25 1230.00,577.50 1242.50,573.75 1255.00,568.00 1270.00,565.00 1285.00,562.00 1297.50,558.75 1312.50,557.00 1320.00,556.25 1327.50,556.50" fill="none" stroke="#ff0000" stroke-width="1" stroke-dasharray="3,3"/>
<text x="3" y="555" font-size="9.5" fill="#000" font-family='"Liberation Sans", Arial, sans-serif' textLength="118" lengthAdjust="spacingAndGlyphs" stroke="#000" stroke-width="0.25">MACD(12,26,9) 34.29 35.55</text>
<line x1="0" y1="693.5" x2="1684" y2="693.5" stroke="#c0c0c0" stroke-width="1" stroke-dasharray="3,3"/>
<line x1="0" y1="737.5" x2="1684" y2="737.5" stroke="#c0c0c0" stroke-width="1" stroke-dasharray="3,3"/>
<polyline points="0.00,715.75 7.50,715.00 15.50,713.75 23.50,714.25 31.50,714.50 39.50,710.50 47.50,711.50 55.50,705.00 63.50,701.25 71.50,707.00 79.50,706.25 87.50,703.25 95.50,707.50 103.50,704.50 111.50,698.25 119.50,696.25 127.50,697.50 135.50,701.25 143.50,704.50 151.50,713.00 159.50,706.25 167.50,706.75 175.50,712.50 183.50,709.25 191.50,712.50 199.50,729.25 207.50,728.25 215.50,713.25 223.50,714.25 231.50,709.50 239.50,713.25 247.50,711.50 255.50,710.50 263.50,705.00 271.50,702.00 279.50,708.00 287.50,710.50 295.50,723.00 303.50,724.25 311.50,716.75 319.50,715.00 327.50,715.50 335.50,720.50 343.50,727.50 351.50,724.50 359.50,735.50 367.50,724.50 375.50,729.25 383.50,735.50 391.50,732.50 399.50,734.25 407.50,728.75 415.50,734.50 423.50,738.25 431.50,734.50 439.50,733.25 447.50,729.50 455.50,732.50 463.50,734.50 471.50,728.25 479.50,726.25 487.50,721.25 495.50,719.50 503.50,719.50 511.50,721.25 519.50,714.50 527.50,718.75 535.50,723.00 543.50,720.50 551.50,719.50 559.50,720.50 567.50,717.50 575.50,720.50 583.50,718.25 591.50,713.75 599.50,715.00 607.50,716.25 615.50,709.25 623.50,709.25 631.50,710.25 639.50,710.25 647.50,709.00 655.50,708.25 663.50,709.00 671.50,711.25 679.50,712.25 687.50,714.25 695.50,709.50 703.50,705.50 711.50,706.25 719.50,708.75 727.50,715.00 735.50,712.00 743.50,705.75 751.50,710.00 759.50,709.00 767.50,708.25 775.50,719.25 783.50,715.50 791.50,716.25 799.50,710.50 807.50,713.25 815.50,712.50 823.50,714.25 831.50,714.25 839.50,707.50 847.50,711.25 855.50,706.50 863.50,709.25 871.50,706.50 879.50,706.25 887.50,697.50 895.50,697.50 903.50,700.50 911.50,697.50 919.50,698.25 927.50,699.50 935.50,693.25 943.50,695.00 951.50,693.25 959.50,698.00 967.50,700.75 975.50,699.50 983.50,701.25 991.50,698.25 999.50,714.25 1007.50,715.50 1015.50,714.25 1023.50,720.00 1031.50,712.50 1039.50,716.25 1047.50,711.75 1055.50,710.50 1063.50,713.25 1071.50,713.25 1079.50,713.25 1087.50,719.50 1095.50,728.75 1103.50,733.00 1111.50,733.25 1119.50,731.25 1127.50,723.75 1135.50,722.50 1143.50,724.25 1151.50,725.50 1159.50,729.25 1167.50,722.50 1175.50,721.25 1183.50,720.50 1191.50,699.50 1199.50,699.50 1207.50,698.25 1215.50,697.50 1223.50,694.25 1231.50,700.50 1239.50,700.50 1247.50,701.25 1255.50,703.25 1263.50,697.50 1271.50,695.50 1279.50,695.00 1287.50,691.50 1295.50,693.25 1303.50,696.25 1311.50,695.00 1319.50,695.00 1327.50,709.50" fill="none" stroke="#1e90ff" stroke-width="1"/>
<text x="3" y="671" font-size="9.5" fill="#000" font-family='"Liberation Sans", Arial, sans-serif' textLength="67.8" lengthAdjust="spacingAndGlyphs" stroke="#000" stroke-width="0.25">RSI(14) 54.4658</text>
<rect x="0" y="30" width="1685" height="1" fill="#000"/>
<rect x="0" y="540" width="1685" height="1" fill="#000"/>
<rect x="0" y="542" width="1685" height="1" fill="#000"/>
<rect x="0" y="656" width="1685" height="1" fill="#000"/>
<rect x="0" y="658" width="1685" height="1" fill="#000"/>
<rect x="0" y="771" width="1685" height="1" fill="#000"/>
<rect x="1684" y="30" width="1" height="511" fill="#000"/>
<rect x="1684" y="542" width="1" height="115" fill="#000"/>
<rect x="1684" y="658" width="1" height="114" fill="#000"/>
<rect x="1685" y="42" width="2" height="1" fill="#000"/>
<text x="1690" y="46" font-size="9.5" fill="#000" font-family='"Liberation Sans", Arial, sans-serif' textLength="28" lengthAdjust="spacingAndGlyphs" stroke="#000" stroke-width="0.25">4231.5</text>
<rect x="1685" y="75" width="2" height="1" fill="#000"/>
<text x="1690" y="79" font-size="9.5" fill="#000" font-family='"Liberation Sans", Arial, sans-serif' textLength="28" lengthAdjust="spacingAndGlyphs" stroke="#000" stroke-width="0.25">4179.0</text>
<rect x="1685" y="108" width="2" height="1" fill="#000"/>
<text x="1690" y="112" font-size="9.5" fill="#000" font-family='"Liberation Sans", Arial, sans-serif' textLength="28" lengthAdjust="spacingAndGlyphs" stroke="#000" stroke-width="0.25">4126.5</text>
<rect x="1685" y="141" width="2" height="1" fill="#000"/>
<text x="1690" y="145" font-size="9.5" fill="#000" font-family='"Liberation Sans", Arial, sans-serif' textLength="28" lengthAdjust="spacingAndGlyphs" stroke="#000" stroke-width="0.25">4074.0</text>
<rect x="1685" y="174" width="2" height="1" fill="#000"/>
<text x="1690" y="178" font-size="9.5" fill="#000" font-family='"Liberation Sans", Arial, sans-serif' textLength="28" lengthAdjust="spacingAndGlyphs" stroke="#000" stroke-width="0.25">4020.0</text>
<rect x="1685" y="207" width="2" height="1" fill="#000"/>
<text x="1690" y="211" font-size="9.5" fill="#000" font-family='"Liberation Sans", Arial, sans-serif' textLength="28" lengthAdjust="spacingAndGlyphs" stroke="#000" stroke-width="0.25">3967.5</text>
<rect x="1685" y="240" width="2" height="1" fill="#000"/>
<text x="1690" y="244" font-size="9.5" fill="#000" font-family='"Liberation Sans", Arial, sans-serif' textLength="28" lengthAdjust="spacingAndGlyphs" stroke="#000" stroke-width="0.25">3915.0</text>
<rect x="1685" y="273" width="2" height="1" fill="#000"/>
<text x="1690" y="277" font-size="9.5" fill="#000" font-family='"Liberation Sans", Arial, sans-serif' textLength="28" lengthAdjust="spacingAndGlyphs" stroke="#000" stroke-width="0.25">3862.5</text>
<rect x="1685" y="306" width="2" height="1" fill="#000"/>
<text x="1690" y="310" font-size="9.5" fill="#000" font-family='"Liberation Sans", Arial, sans-serif' textLength="28" lengthAdjust="spacingAndGlyphs" stroke="#000" stroke-width="0.25">3810.0</text>
<rect x="1685" y="339" width="2" height="1" fill="#000"/>
<text x="1690" y="343" font-size="9.5" fill="#000" font-family='"Liberation Sans", Arial, sans-serif' textLength="28" lengthAdjust="spacingAndGlyphs" stroke="#000" stroke-width="0.25">3757.5</text>
<rect x="1685" y="372" width="2" height="1" fill="#000"/>
<text x="1690" y="376" font-size="9.5" fill="#000" font-family='"Liberation Sans", Arial, sans-serif' textLength="28" lengthAdjust="spacingAndGlyphs" stroke="#000" stroke-width="0.25">3705.0</text>
<rect x="1685" y="405" width="2" height="1" fill="#000"/>
<text x="1690" y="409" font-size="9.5" fill="#000" font-family='"Liberation Sans", Arial, sans-serif' textLength="28" lengthAdjust="spacingAndGlyphs" stroke="#000" stroke-width="0.25">3652.5</text>
<rect x="1685" y="438" width="2" height="1" fill="#000"/>
<text x="1690" y="442" font-size="9.5" fill="#000" font-family='"Liberation Sans", Arial, sans-serif' textLength="28" lengthAdjust="spacingAndGlyphs" stroke="#000" stroke-width="0.25">3600.0</text>
<rect x="1685" y="471" width="2" height="1" fill="#000"/>
<text x="1690" y="475" font-size="9.5" fill="#000" font-family='"Liberation Sans", Arial, sans-serif' textLength="28" lengthAdjust="spacingAndGlyphs" stroke="#000" stroke-width="0.25">3547.5</text>
<rect x="1685" y="504" width="2" height="1" fill="#000"/>
<text x="1690" y="508" font-size="9.5" fill="#000" font-family='"Liberation Sans", Arial, sans-serif' textLength="28" lengthAdjust="spacingAndGlyphs" stroke="#000" stroke-width="0.25">3495.0</text>
<rect x="1685" y="537" width="2" height="1" fill="#000"/>
<text x="1690" y="541" font-size="9.5" fill="#000" font-family='"Liberation Sans", Arial, sans-serif' textLength="28" lengthAdjust="spacingAndGlyphs" stroke="#000" stroke-width="0.25">3442.5</text>
<rect x="1686" y="78" width="33" height="11" fill="#ff0000"/>
<text x="1690" y="87" font-size="9.5" fill="#fff" font-family='"Liberation Sans", Arial, sans-serif' textLength="28" lengthAdjust="spacingAndGlyphs" stroke="#fff" stroke-width="0.25">4165.0</text>
<rect x="1686" y="134" width="33" height="11" fill="#ff0000"/>
<text x="1690" y="143" font-size="9.5" fill="#fff" font-family='"Liberation Sans", Arial, sans-serif' textLength="28" lengthAdjust="spacingAndGlyphs" stroke="#fff" stroke-width="0.25">4075.0</text>
<rect x="1686" y="204" width="33" height="11" fill="#000000"/>
<text x="1690" y="213" font-size="9.5" fill="#fff" font-family='"Liberation Sans", Arial, sans-serif' textLength="28" lengthAdjust="spacingAndGlyphs" stroke="#fff" stroke-width="0.25">3964.2</text>
<rect x="1686" y="212" width="33" height="11" fill="#20c820"/>
<text x="1690" y="221" font-size="9.5" fill="#fff" font-family='"Liberation Sans", Arial, sans-serif' textLength="28" lengthAdjust="spacingAndGlyphs" stroke="#fff" stroke-width="0.25">3950.0</text>
<rect x="1686" y="288" width="33" height="11" fill="#4169e1"/>
<text x="1690" y="297" font-size="9.5" fill="#fff" font-family='"Liberation Sans", Arial, sans-serif' textLength="28" lengthAdjust="spacingAndGlyphs" stroke="#fff" stroke-width="0.25">3830.0</text>
<rect x="1686" y="347" width="33" height="11" fill="#4169e1"/>
<text x="1690" y="356" font-size="9.5" fill="#fff" font-family='"Liberation Sans", Arial, sans-serif' textLength="28" lengthAdjust="spacingAndGlyphs" stroke="#fff" stroke-width="0.25">3735.0</text>
<rect x="1686" y="401" width="33" height="11" fill="#4169e1"/>
<text x="1690" y="410" font-size="9.5" fill="#fff" font-family='"Liberation Sans", Arial, sans-serif' textLength="28" lengthAdjust="spacingAndGlyphs" stroke="#fff" stroke-width="0.25">3650.0</text>
<rect x="1685" y="544" width="2" height="1" fill="#000"/>
<rect x="1685" y="576" width="2" height="1" fill="#000"/>
<rect x="1685" y="655" width="2" height="1" fill="#000"/>
<text x="1688" y="553" font-size="9.5" fill="#000" font-family='"Liberation Sans", Arial, sans-serif' textLength="22.3" lengthAdjust="spacingAndGlyphs" stroke="#000" stroke-width="0.25">56.71</text>
<text x="1688" y="580" font-size="9.5" fill="#000" font-family='"Liberation Sans", Arial, sans-serif' textLength="17" lengthAdjust="spacingAndGlyphs" stroke="#000" stroke-width="0.25">0.00</text>
<text x="1688" y="653" font-size="9.5" fill="#000" font-family='"Liberation Sans", Arial, sans-serif' textLength="30.6" lengthAdjust="spacingAndGlyphs" stroke="#000" stroke-width="0.25">-137.01</text>
<rect x="1685" y="660" width="2" height="1" fill="#000"/>
<rect x="1685" y="693" width="2" height="1" fill="#000"/>
<rect x="1685" y="737" width="2" height="1" fill="#000"/>
<rect x="1685" y="770" width="2" height="1" fill="#000"/>
<text x="1688" y="669" font-size="9.5" fill="#000" font-family='"Liberation Sans", Arial, sans-serif' textLength="15" lengthAdjust="spacingAndGlyphs" stroke="#000" stroke-width="0.25">100</text>
<text x="1688" y="697" font-size="9.5" fill="#000" font-family='"Liberation Sans", Arial, sans-serif' textLength="8.7" lengthAdjust="spacingAndGlyphs" stroke="#000" stroke-width="0.25">70</text>
<text x="1688" y="741" font-size="9.5" fill="#000" font-family='"Liberation Sans", Arial, sans-serif' textLength="8.7" lengthAdjust="spacingAndGlyphs" stroke="#000" stroke-width="0.25">30</text>
<text x="1688" y="768" font-size="9.5" fill="#000" font-family='"Liberation Sans", Arial, sans-serif' textLength="4.4" lengthAdjust="spacingAndGlyphs" stroke="#000" stroke-width="0.25">0</text>
<text x="0" y="784" font-size="9.5" fill="#000" font-family='"Liberation Sans", Arial, sans-serif' textLength="50" lengthAdjust="spacingAndGlyphs" stroke="#000" stroke-width="0.25">11 Feb 2020</text>
<rect x="63" y="772" width="1" height="3" fill="#000"/>
<text x="62.1" y="784" font-size="9.5" fill="#000" font-family='"Liberation Sans", Arial, sans-serif' textLength="55.7" lengthAdjust="spacingAndGlyphs" stroke="#000" stroke-width="0.25">17 Feb 05:00</text>
<rect x="127" y="772" width="1" height="3" fill="#000"/>
<text x="126.1" y="784" font-size="9.5" fill="#000" font-family='"Liberation Sans", Arial, sans-serif' textLength="55.7" lengthAdjust="spacingAndGlyphs" stroke="#000" stroke-width="0.25">21 Feb 05:00</text>
<rect x="191" y="772" width="1" height="3" fill="#000"/>
<text x="190.1" y="784" font-size="9.5" fill="#000" font-family='"Liberation Sans", Arial, sans-serif' textLength="55.7" lengthAdjust="spacingAndGlyphs" stroke="#000" stroke-width="0.25">27 Feb 05:00</text>
<rect x="255" y="772" width="1" height="3" fill="#000"/>
<text x="254.1" y="784" font-size="9.5" fill="#000" font-family='"Liberation Sans", Arial, sans-serif' textLength="49.5" lengthAdjust="spacingAndGlyphs" stroke="#000" stroke-width="0.25">4 Mar 05:00</text>
<rect x="319" y="772" width="1" height="3" fill="#000"/>
<text x="318.1" y="784" font-size="9.5" fill="#000" font-family='"Liberation Sans", Arial, sans-serif' textLength="55.5" lengthAdjust="spacingAndGlyphs" stroke="#000" stroke-width="0.25">10 Mar 05:00</text>
<rect x="383" y="772" width="1" height="3" fill="#000"/>
<text x="382.1" y="784" font-size="9.5" fill="#000" font-family='"Liberation Sans", Arial, sans-serif' textLength="55.5" lengthAdjust="spacingAndGlyphs" stroke="#000" stroke-width="0.25">16 Mar 05:00</text>
<rect x="447" y="772" width="1" height="3" fill="#000"/>
<text x="446.1" y="784" font-size="9.5" fill="#000" font-family='"Liberation Sans", Arial, sans-serif' textLength="55.5" lengthAdjust="spacingAndGlyphs" stroke="#000" stroke-width="0.25">20 Mar 05:00</text>
<rect x="511" y="772" width="1" height="3" fill="#000"/>
<text x="510.1" y="784" font-size="9.5" fill="#000" font-family='"Liberation Sans", Arial, sans-serif' textLength="55.5" lengthAdjust="spacingAndGlyphs" stroke="#000" stroke-width="0.25">26 Mar 05:00</text>
<rect x="575" y="772" width="1" height="3" fill="#000"/>
<text x="574.1" y="784" font-size="9.5" fill="#000" font-family='"Liberation Sans", Arial, sans-serif' textLength="49.3" lengthAdjust="spacingAndGlyphs" stroke="#000" stroke-width="0.25">1 Apr 05:00</text>
<rect x="639" y="772" width="1" height="3" fill="#000"/>
<text x="638.1" y="784" font-size="9.5" fill="#000" font-family='"Liberation Sans", Arial, sans-serif' textLength="49.3" lengthAdjust="spacingAndGlyphs" stroke="#000" stroke-width="0.25">8 Apr 05:00</text>
<rect x="703" y="772" width="1" height="3" fill="#000"/>
<text x="702.1" y="784" font-size="9.5" fill="#000" font-family='"Liberation Sans", Arial, sans-serif' textLength="55.3" lengthAdjust="spacingAndGlyphs" stroke="#000" stroke-width="0.25">14 Apr 05:00</text>
<rect x="767" y="772" width="1" height="3" fill="#000"/>
<text x="766.1" y="784" font-size="9.5" fill="#000" font-family='"Liberation Sans", Arial, sans-serif' textLength="55.3" lengthAdjust="spacingAndGlyphs" stroke="#000" stroke-width="0.25">20 Apr 05:00</text>
<rect x="831" y="772" width="1" height="3" fill="#000"/>
<text x="830.1" y="784" font-size="9.5" fill="#000" font-family='"Liberation Sans", Arial, sans-serif' textLength="55.3" lengthAdjust="spacingAndGlyphs" stroke="#000" stroke-width="0.25">24 Apr 05:00</text>
<rect x="895" y="772" width="1" height="3" fill="#000"/>
<text x="894.1" y="784" font-size="9.5" fill="#000" font-family='"Liberation Sans", Arial, sans-serif' textLength="55.3" lengthAdjust="spacingAndGlyphs" stroke="#000" stroke-width="0.25">30 Apr 05:00</text>
<rect x="959" y="772" width="1" height="3" fill="#000"/>
<text x="958.1" y="784" font-size="9.5" fill="#000" font-family='"Liberation Sans", Arial, sans-serif' textLength="58.3" lengthAdjust="spacingAndGlyphs" stroke="#000" stroke-width="0.25">11 May 05:00</text>
<rect x="1023" y="772" width="1" height="3" fill="#000"/>
<text x="1022.1" y="784" font-size="9.5" fill="#000" font-family='"Liberation Sans", Arial, sans-serif' textLength="58.3" lengthAdjust="spacingAndGlyphs" stroke="#000" stroke-width="0.25">15 May 05:00</text>
<rect x="1087" y="772" width="1" height="3" fill="#000"/>
<text x="1086.1" y="784" font-size="9.5" fill="#000" font-family='"Liberation Sans", Arial, sans-serif' textLength="58.3" lengthAdjust="spacingAndGlyphs" stroke="#000" stroke-width="0.25">21 May 05:00</text>
<rect x="1151" y="772" width="1" height="3" fill="#000"/>
<text x="1150.1" y="784" font-size="9.5" fill="#000" font-family='"Liberation Sans", Arial, sans-serif' textLength="58.3" lengthAdjust="spacingAndGlyphs" stroke="#000" stroke-width="0.25">27 May 05:00</text>
<rect x="1215" y="772" width="1" height="3" fill="#000"/>
<text x="1214.1" y="784" font-size="9.5" fill="#000" font-family='"Liberation Sans", Arial, sans-serif' textLength="49.3" lengthAdjust="spacingAndGlyphs" stroke="#000" stroke-width="0.25">2 Jun 05:00</text>
<rect x="1279" y="772" width="1" height="3" fill="#000"/>
<text x="1278.1" y="784" font-size="9.5" fill="#000" font-family='"Liberation Sans", Arial, sans-serif' textLength="49.3" lengthAdjust="spacingAndGlyphs" stroke="#000" stroke-width="0.25">8 Jun 05:00</text>
</svg>
</body></html>
